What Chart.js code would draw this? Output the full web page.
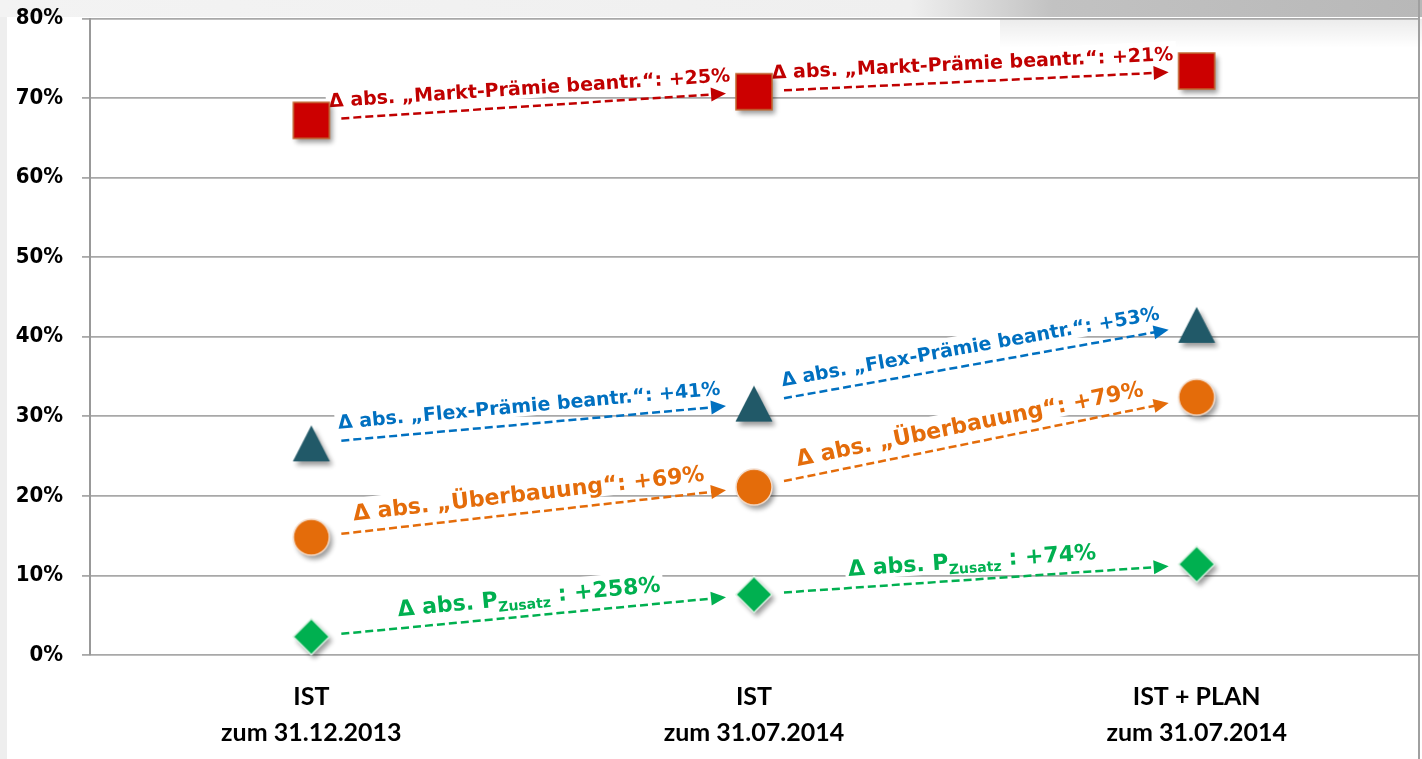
<!DOCTYPE html>
<html>
<head>
<meta charset="utf-8">
<script src="https://cdn.jsdelivr.net/npm/chart.js@4"></script>
<style>
html, body { margin: 0; padding: 0; background: #fff; }
#wrap { width: 1422px; height: 759px; }
</style>
</head>
<body>
<div id="wrap"><canvas id="chart" width="1422" height="759"></canvas></div>
<script>
var categories = [['IST', 'zum 31.12.2013'], ['IST', 'zum 31.07.2014'], ['IST + PLAN', 'zum 31.07.2014']];
var marktPraemie = [67.2, 70.8, 73.4];
var flexPraemie = [26.6, 31.6, 41.5];
var ueberbauung = [14.8, 21.1, 32.4];
var pZusatz = [2.3, 7.6, 11.4];
var marktDelta = ['+25%', '+21%'];
var flexDelta = ['+41%', '+53%'];
var ueberDelta = ['+69%', '+79%'];
var zusatzDelta = ['+258%', '+74%'];
var yTicks = [0, 10, 20, 30, 40, 50, 60, 70, 80];

// marker images with a soft drop shadow
function marker(shape, fill, stroke) {
    var c = document.createElement('canvas');
    c.width = 64; c.height = 64;
    var g = c.getContext('2d');
    g.shadowColor = 'rgba(0,0,0,0.4)';
    g.shadowBlur = 5; g.shadowOffsetX = 3; g.shadowOffsetY = 4;
    g.beginPath();
    if (shape == 'square') {
        g.rect(14, 14, 36, 36);
    } else if (shape == 'circle') {
        g.arc(32, 32, 18, 0, Math.PI * 2);
    } else if (shape == 'triangle') {
        g.moveTo(32, 14); g.lineTo(50.5, 50); g.lineTo(13.5, 50); g.closePath();
    } else {
        g.moveTo(32, 14); g.lineTo(50, 32); g.lineTo(32, 50); g.lineTo(14, 32); g.closePath();
    }
    g.fillStyle = fill;
    g.fill();
    g.shadowColor = 'transparent';
    if (stroke) { g.lineWidth = 1.5; g.strokeStyle = stroke; g.stroke(); }
    return c;
}

var arrowSeries = [
    {values: marktPraemie, deltas: marktDelta, color: '#C00000', size: 19, prefix: 'Δ abs. „Markt-Prämie beantr.“: ', sub: '', suffix: ''},
    {values: flexPraemie, deltas: flexDelta, color: '#0070C0', size: 19, prefix: 'Δ abs. „Flex-Prämie beantr.“: ', sub: '', suffix: ''},
    {values: ueberbauung, deltas: ueberDelta, color: '#E46C0A', size: 22, prefix: 'Δ abs. „Überbauung“: ', sub: '', suffix: ''},
    {values: pZusatz, deltas: zusatzDelta, color: '#00B050', size: 22, prefix: 'Δ abs. P', sub: 'Zusatz', suffix: ' : '}
];

function drawLabel(ctx, s, delta, cx, cy, ang) {
    var main = 'bold ' + s.size + 'px "DejaVu Sans"';
    var small = 'bold ' + Math.round(s.size * 0.65) + 'px "DejaVu Sans"';
    var pieces = [{t: s.prefix, f: main, dy: 0}];
    if (s.sub) pieces.push({t: s.sub, f: small, dy: 5});
    pieces.push({t: s.suffix + delta, f: main, dy: 0});
    var w = 0;
    pieces.forEach(function(p) { ctx.font = p.f; p.w = ctx.measureText(p.t).width; w += p.w; });
    ctx.save();
    ctx.translate(cx, cy);
    ctx.rotate(ang);
    ctx.fillStyle = '#fff';
    ctx.fillRect(-w / 2 - 3, -12 - s.size, w + 6, s.size + 4);
    ctx.fillStyle = s.color;
    ctx.textBaseline = 'alphabetic';
    ctx.textAlign = 'left';
    var x = -w / 2;
    pieces.forEach(function(p) { ctx.font = p.f; ctx.fillText(p.t, x, -12 + p.dy); x += p.w; });
    ctx.restore();
}

var arrowPlugin = {
    id: 'arrows',
    beforeDatasetsDraw: function(chart) {
        var ctx = chart.ctx, xs = chart.scales.x, ys = chart.scales.y;
        arrowSeries.forEach(function(s) {
            for (var i = 0; i < s.values.length - 1; i++) {
                var x1 = xs.getPixelForValue(i), y1 = ys.getPixelForValue(s.values[i]);
                var x2 = xs.getPixelForValue(i + 1), y2 = ys.getPixelForValue(s.values[i + 1]);
                var dx = x2 - x1, dy = y2 - y1, len = Math.hypot(dx, dy);
                var ux = dx / len, uy = dy / len, ang = Math.atan2(dy, dx);
                var t0 = 30 / dx, t1 = 1 - 28 / dx;
                var sx = x1 + dx * t0, sy = y1 + dy * t0, ex = x1 + dx * t1, ey = y1 + dy * t1;

                drawLabel(ctx, s, s.deltas[i], (sx + ex) / 2 - ux * 3, (sy + ey) / 2 - uy * 3, ang);

                ctx.save();
                ctx.strokeStyle = s.color;
                ctx.lineWidth = 2.5;
                ctx.setLineDash([8, 4]);
                ctx.beginPath();
                ctx.moveTo(sx, sy);
                ctx.lineTo(ex - ux * 14, ey - uy * 14);
                ctx.stroke();
                ctx.setLineDash([]);
                ctx.translate(ex, ey);
                ctx.rotate(ang);
                ctx.fillStyle = s.color;
                ctx.beginPath();
                ctx.moveTo(0, 0); ctx.lineTo(-15, -7); ctx.lineTo(-15, 7); ctx.closePath();
                ctx.fill();
                ctx.restore();
            }
        });
    }
};

// slide background: grey strips and shadow at the top
var framePlugin = {
    id: 'frame',
    beforeDraw: function(chart) {
        var ctx = chart.ctx, w = chart.width, h = chart.height;
        ctx.save();
        ctx.fillStyle = '#fff';
        ctx.fillRect(0, 0, w, h);
        ctx.fillStyle = '#eeeeee';
        ctx.fillRect(0, 0, 7, h);
        var g = ctx.createLinearGradient(0, 0, w, 0);
        g.addColorStop(0, '#f3f3f3');
        g.addColorStop(0.64, '#efefef');
        g.addColorStop(0.74, '#c2c2c2');
        g.addColorStop(1, '#b8b8b8');
        ctx.fillStyle = g;
        ctx.fillRect(0, 0, w, 17);
        var g2 = ctx.createLinearGradient(0, 19, 0, 48);
        g2.addColorStop(0, 'rgba(0,0,0,0.08)');
        g2.addColorStop(1, 'rgba(0,0,0,0)');
        ctx.fillStyle = g2;
        ctx.fillRect(1000, 19, w - 1000, 29);
        ctx.fillStyle = '#a0a0a0';
        ctx.fillRect(1418, 0, 2, h);
        ctx.restore();
    }
};

var ctx = document.getElementById('chart').getContext('2d');

var myChart = new Chart(ctx, {
    type: 'line',
    data: {
        labels: categories,
        datasets: [
            {label: 'Markt-Prämie beantr.', data: marktPraemie, pointStyle: marker('square', '#CC0000', '#C0662E')},
            {label: 'Flex-Prämie beantr.', data: flexPraemie, pointStyle: marker('triangle', '#215968', null)},
            {label: 'Überbauung', data: ueberbauung, pointStyle: marker('circle', '#E46C0A', '#f3dccb')},
            {label: 'P Zusatz', data: pZusatz, pointStyle: marker('diamond', '#00B050', '#d6efdf')}
        ]
    },
    options: {
        responsive: false,
        animation: false,
        events: [],
        showLine: false,
        clip: false,
        layout: {autoPadding: false, padding: {top: 18.5, right: 4, bottom: 8, left: 0}},
        plugins: {
            legend: {display: false},
            tooltip: {enabled: false}
        },
        scales: {
            x: {
                offset: true,
                grid: {display: false, drawTicks: false},
                border: {display: false},
                ticks: {
                    color: '#000',
                    maxRotation: 0,
                    padding: 24,
                    font: {family: 'Lato', size: 25, weight: 'bold', lineHeight: 1.44}
                },
                afterFit: function(scale) { scale.height = 96; }
            },
            y: {
                min: 0,
                max: 80,
                afterBuildTicks: function(axis) {
                    axis.ticks = yTicks.map(function(v) { return {value: v}; });
                },
                grid: {color: '#a8a8a8', lineWidth: 1.8, tickLength: 8},
                border: {color: '#999999', width: 2},
                ticks: {
                    color: '#000',
                    padding: 19,
                    font: {family: 'DejaVu Sans Condensed', size: 22, weight: 'bold'},
                    callback: function(v) { return v + '%'; }
                },
                afterFit: function(scale) {
                    scale.width = 90;
                    scale.paddingTop = 0;
                    scale.paddingBottom = 0;
                }
            }
        }
    },
    plugins: [framePlugin, arrowPlugin]
});
</script>
</body>
</html>
